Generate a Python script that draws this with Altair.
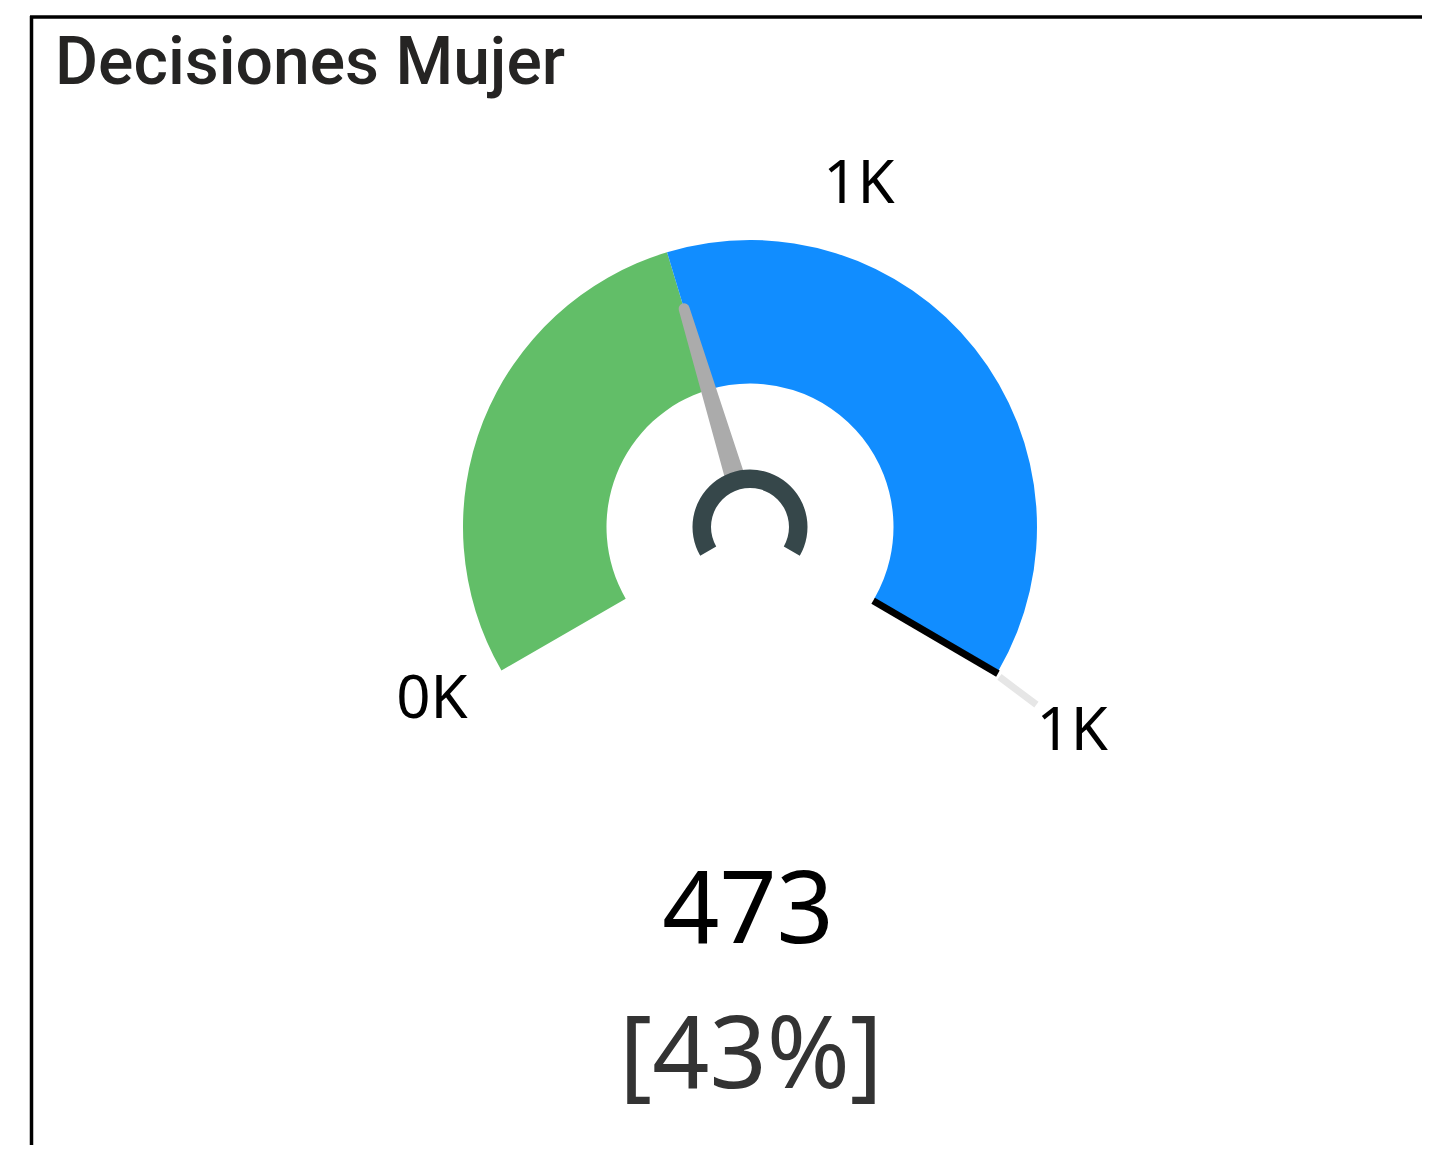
import math
import altair as alt
import pandas as pd

# ---------------- data ----------------
title_text = "Decisiones Mujer"
gauge_min = 0
gauge_max = 1100
value = 473
target = 630
segment_names = ["valor", "resto"]
segment_colors = ["#62BE68", "#118DFF"]

def k_label(v):
    return f"{round(v / 1000)}K"

pct_text = f"[{round(value / gauge_max * 100)}%]"
value_text = f"{value}"

# ---------------- layout ----------------
W, H = 1414, 1137
CX, CY = 750, 527
R_OUT, R_IN = 287, 143.5
A0, A1 = 240.0, 480.0  # degrees, clockwise from 12 o'clock

xs = alt.Scale(domain=[8, 8 + W], nice=False, zero=False)
ys = alt.Scale(domain=[8, 8 + H], nice=False, zero=False, reverse=True)


def ang(v):
    return A0 + (v - gauge_min) / (gauge_max - gauge_min) * (A1 - A0)


def pt(a_deg, r):
    a = math.radians(a_deg)
    return CX + r * math.sin(a), CY - r * math.cos(a)


X = lambda f: alt.X(f, scale=xs, axis=None)
Y = lambda f: alt.Y(f, scale=ys, axis=None)
cx_enc = alt.X(datum=CX, scale=xs, axis=None)
cy_enc = alt.Y(datum=CY, scale=ys, axis=None)

# border of the card
border = pd.DataFrame({"x": [30, 31.5], "x2": [1440, 31.5], "y": [17, 16], "y2": [17, 1160]})
border_layer = alt.Chart(border).mark_rule(color="#000000", strokeWidth=3.5).encode(
    x=X("x:Q"), x2="x2:Q", y=Y("y:Q"), y2="y2:Q"
)

# title
title_df = pd.DataFrame({"t": [title_text], "x": [55], "y": [84]})
title_layer = alt.Chart(title_df).mark_text(
    font="Roboto", fontSize=66, fontWeight=500, color="#252423", align="left", baseline="alphabetic"
).encode(x=X("x:Q"), y=Y("y:Q"), text="t:N")

# gauge segments
seg = pd.DataFrame({
    "name": segment_names,
    "start": [gauge_min, value],
    "end": [value, gauge_max],
    "color": segment_colors,
})
arc_layer = alt.Chart(seg).mark_arc(radius=R_OUT, radius2=R_IN).encode(
    x=cx_enc, y=cy_enc,
    theta=alt.Theta("start:Q", stack=None,
                    scale=alt.Scale(domain=[gauge_min, gauge_max],
                                    range=[math.radians(A0), math.radians(A1)])),
    theta2="end:Q",
    color=alt.Color("color:N", scale=None),
)

# max edge (black) and tick extension (light grey)
a_max = ang(gauge_max)
p1 = pt(a_max + 0.9, R_IN)
p2 = pt(a_max + 0.6, R_OUT + 1)
edge = pd.DataFrame({"x": [p1[0]], "y": [p1[1]], "x2": [p2[0]], "y2": [p2[1]]})
edge_layer = alt.Chart(edge).mark_rule(color="#000000", strokeWidth=7).encode(
    x=X("x:Q"), y=Y("y:Q"), x2="x2:Q", y2="y2:Q"
)
q1 = pt(a_max + 1.0, R_OUT + 4)
q2 = pt(a_max + 1.8, R_OUT + 50)
ext = pd.DataFrame({"x": [q1[0]], "y": [q1[1]], "x2": [q2[0]], "y2": [q2[1]]})
ext_layer = alt.Chart(ext).mark_rule(color="#E6E6E6", strokeWidth=7).encode(
    x=X("x:Q"), y=Y("y:Q"), x2="x2:Q", y2="y2:Q"
)

# needle
a_val = ang(value)
n0 = pt(a_val, 50)
n1 = pt(a_val, 228)
needle = pd.DataFrame({"i": [0, 1], "x": [n0[0], n1[0]], "y": [n0[1], n1[1]], "w": [20, 11]})
needle_layer = alt.Chart(needle).mark_trail(color="#ABABAB").encode(
    x=X("x:Q"), y=Y("y:Q"), size=alt.Size("w:Q", scale=None, legend=None), order="i:O"
)

# hub
hub_layer = alt.Chart(pd.DataFrame({"k": [0]})).mark_arc(
    radius=57.5, radius2=39, theta=math.radians(A0), theta2=math.radians(A1), color="#36474A"
).encode(x=cx_enc, y=cy_enc)

# gauge labels
lab_vals = [gauge_min, gauge_max, target]
lab_adj = [1.5, 2.5, 0.2]
lab_r = [362, 382, 359]
lx, ly, lt = [], [], []
for v, da, r in zip(lab_vals, lab_adj, lab_r):
    px, py = pt(ang(v) + da, r)
    lx.append(px)
    ly.append(py)
    lt.append(k_label(v))
labels = pd.DataFrame({"x": lx, "y": ly, "t": lt})
label_layer = alt.Chart(labels).mark_text(
    font="Noto Sans", fontSize=60, color="#000000", align="center", baseline="middle"
).encode(x=X("x:Q"), y=Y("y:Q"), text="t:N")

# centre value and percent
val_df = pd.DataFrame({"t": [value_text], "x": [CX - 2], "y": [943]})
val_layer = alt.Chart(val_df).mark_text(
    font="Noto Sans", fontSize=100, color="#000000", align="center", baseline="alphabetic"
).encode(x=X("x:Q"), y=Y("y:Q"), text="t:N")
pct_df = pd.DataFrame({"t": [pct_text], "x": [CX + 1], "y": [1088]})
pct_layer = alt.Chart(pct_df).mark_text(
    font="Noto Sans", fontSize=100, color="#333333", align="center", baseline="alphabetic"
).encode(x=X("x:Q"), y=Y("y:Q"), text="t:N")

chart = alt.layer(
    border_layer, title_layer, arc_layer, needle_layer, hub_layer,
    edge_layer, ext_layer, label_layer, val_layer, pct_layer
).properties(
    width=W, height=H, autosize=alt.AutoSizeParams(type="none"), padding=0
).configure_view(stroke=None)

chart.save("out.html", embed_options={"renderer": "svg", "actions": False})
